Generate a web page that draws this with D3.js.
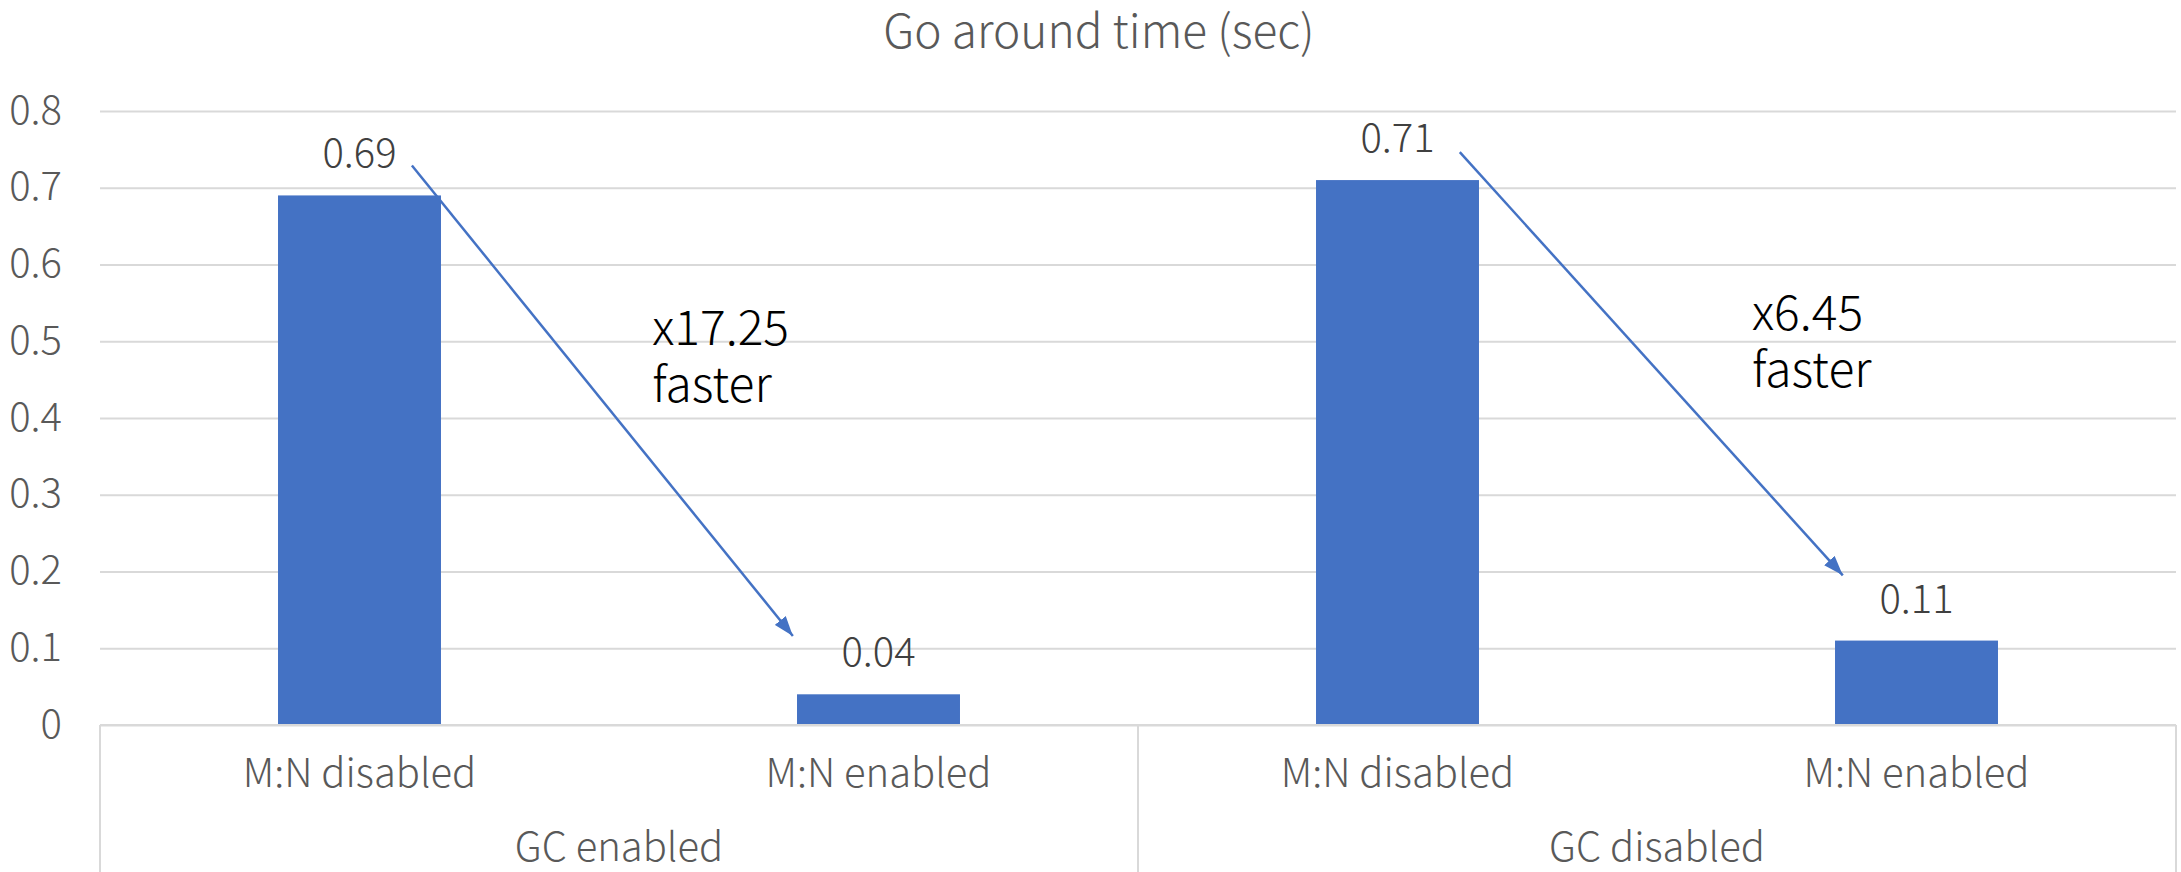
<!DOCTYPE html>
<html>
<head>
<meta charset="utf-8">
<script src="https://cdn.jsdelivr.net/npm/d3@7"></script>
<style>
  html, body { margin: 0; padding: 0; background: #ffffff; }
  svg { display: block; }
  text { font-family: "Noto Sans CJK JP", "Noto Sans", "Open Sans", sans-serif; font-weight: 300; }
</style>
</head>
<body>
<svg id="chart" width="2181" height="872"></svg>
<script>
// Go-around time for each configuration
const title = "Go around time (sec)";
const categories = ["M:N disabled", "M:N enabled", "M:N disabled", "M:N enabled"];
const groups = ["GC enabled", "GC disabled"];
const values = [0.69, 0.04, 0.71, 0.11];
const yTicks = [0, 0.1, 0.2, 0.3, 0.4, 0.5, 0.6, 0.7, 0.8];

// Speed-up annotations: arrow from one bar's label to the other's,
// positions given in category units (x) and seconds (y)
const speedups = [
  { from: 0, to: 1, start: [0.601, 0.729], end: [1.335, 0.116], text: [1.064, 0.495] },
  { from: 2, to: 3, start: [2.620, 0.7465], end: [3.358, 0.195], text: [3.183, 0.5145] }
];

const W = 2181, H = 872;
const plot = { left: 100, right: 2176, top: 111, bottom: 725 };
const blue = "#4472C4";
const gridColor = "#d9d9d9";

const svg = d3.select("#chart");

const x = d3.scaleBand()
  .domain(d3.range(categories.length))
  .range([plot.left, plot.right])
  .paddingInner(0.686)
  .paddingOuter(0.343);

const xu = d3.scaleLinear().domain([0, categories.length]).range([plot.left, plot.right]);

const y = d3.scaleLinear().domain([0, 0.8]).range([plot.bottom, plot.top]);

// Horizontal gridlines
const grid = svg.append("g")
  .attr("transform", `translate(${plot.left},0)`)
  .call(d3.axisLeft(y).tickValues(yTicks).tickSize(-(plot.right - plot.left)).tickFormat(""));
grid.select(".domain").remove();
grid.selectAll(".tick line").attr("stroke", gridColor).attr("stroke-width", 2);

// Y tick labels
const yAxis = svg.append("g")
  .attr("transform", `translate(62,0)`)
  .call(d3.axisLeft(y).tickValues(yTicks).tickSize(0).tickPadding(0).tickFormat(d3.format(".1~f")));
yAxis.select(".domain").remove();
yAxis.selectAll(".tick text")
  .attr("fill", "#595959")
  .attr("font-size", 40)
  .attr("dy", 12)
  .attr("text-anchor", "end")
  .style("font-family", "'Noto Sans CJK JP', 'Noto Sans', sans-serif")
  .style("font-weight", 300);

// Bars
svg.append("g").selectAll("rect")
  .data(values)
  .join("rect")
  .attr("x", (d, i) => x(i))
  .attr("y", d => y(d))
  .attr("width", x.bandwidth())
  .attr("height", d => y(0) - y(d))
  .attr("fill", blue);

// Value labels
svg.append("g").selectAll("text")
  .data(values)
  .join("text")
  .attr("x", (d, i) => x(i) + x.bandwidth() / 2)
  .attr("y", d => y(d) - 28)
  .attr("text-anchor", "middle")
  .attr("font-size", 40)
  .attr("fill", "#404040")
  .text(d => d3.format(".2f")(d));

// Multi-level category axis frame
const frame = svg.append("g").attr("stroke", gridColor).attr("stroke-width", 2).attr("fill", "none");
frame.append("line")
  .attr("x1", plot.left).attr("x2", plot.right)
  .attr("y1", y(0)).attr("y2", y(0));
const groupEdges = [plot.left, xu(2), plot.right];
frame.selectAll("line.edge")
  .data(groupEdges)
  .join("line")
  .attr("class", "edge")
  .attr("x1", d => d).attr("x2", d => d)
  .attr("y1", y(0)).attr("y2", H);

// Sub-category labels
svg.append("g").selectAll("text")
  .data(categories)
  .join("text")
  .attr("x", (d, i) => x(i) + x.bandwidth() / 2)
  .attr("y", 787)
  .attr("text-anchor", "middle")
  .attr("font-size", 40)
  .attr("fill", "#595959")
  .text(d => d);

// Group labels
svg.append("g").selectAll("text")
  .data(groups)
  .join("text")
  .attr("x", (d, g) => xu(g * 2 + 1))
  .attr("y", 861)
  .attr("text-anchor", "middle")
  .attr("font-size", 40)
  .attr("fill", "#595959")
  .text(d => d);

// Title
svg.append("text")
  .attr("x", 1099)
  .attr("y", 48)
  .attr("text-anchor", "middle")
  .attr("font-size", 46)
  .attr("fill", "#595959")
  .text(title);

// Arrowhead
svg.append("defs").append("marker")
  .attr("id", "head")
  .attr("markerUnits", "userSpaceOnUse")
  .attr("viewBox", "0 0 20 14")
  .attr("refX", 20).attr("refY", 7)
  .attr("markerWidth", 20).attr("markerHeight", 14)
  .attr("orient", "auto")
  .append("path")
  .attr("d", "M0,0 L20,7 L0,14 Z")
  .attr("fill", blue);

// Speed-up arrows and captions (two lines each)
const ann = svg.append("g");
speedups.forEach(s => {
  ann.append("line")
    .attr("x1", xu(s.start[0])).attr("y1", y(s.start[1]))
    .attr("x2", xu(s.end[0])).attr("y2", y(s.end[1]))
    .attr("stroke", blue)
    .attr("stroke-width", 2.5)
    .attr("marker-end", "url(#head)");
  const ratio = values[s.from] / values[s.to];
  const lines = ["x" + d3.format(".2f")(ratio), "faster"];
  ann.append("g").selectAll("text")
    .data(lines)
    .join("text")
    .attr("x", xu(s.text[0]))
    .attr("y", (d, k) => y(s.text[1]) + k * 57)
    .attr("font-size", 48)
    .attr("fill", "#000000")
    .text(d => d);
});
</script>
</body>
</html>
